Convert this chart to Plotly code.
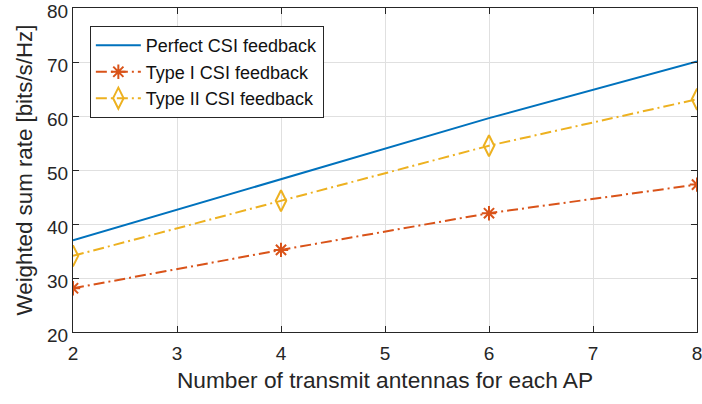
import plotly.graph_objects as go

# Sum-rate results versus number of transmit antennas per AP
antennas = [2, 4, 6, 8]
rate_perfect = [37.0, 48.3, 59.6, 70.1]
rate_type1 = [28.1, 35.2, 42.0, 47.3]
rate_type2 = [34.1, 44.3, 54.5, 63.1]

x_ticks = [2, 3, 4, 5, 6, 7, 8]
y_ticks = [20, 30, 40, 50, 60, 70, 80]

BLUE = "#0072BD"
RED = "#D95319"
YELLOW = "#EDB120"
AX = "#262626"
FONT = "Liberation Sans, Arial, sans-serif"
DASHDOT = "11px,4px,2px,4px"

fig = go.Figure()
fig.add_trace(go.Scatter(
    x=antennas, y=rate_perfect, mode="lines", name="Perfect CSI feedback",
    line=dict(color=BLUE, width=2),
))
fig.add_trace(go.Scatter(
    x=antennas, y=rate_type1, mode="lines+markers", name="Type I CSI feedback",
    line=dict(color=RED, width=2, dash=DASHDOT),
    marker=dict(symbol="asterisk-open", size=12, line=dict(color=RED, width=2)),
))
fig.add_trace(go.Scatter(
    x=antennas, y=rate_type2, mode="lines+markers", name="Type II CSI feedback",
    line=dict(color=YELLOW, width=2, dash=DASHDOT),
    marker=dict(symbol="diamond-tall-open", size=15, line=dict(color=YELLOW, width=2)),
))

axis_common = dict(
    showline=True, linecolor=AX, linewidth=1, mirror="ticks",
    ticks="inside", ticklen=6, tickwidth=1, tickcolor=AX,
    showgrid=True, gridcolor="#e0e0e0", gridwidth=1, zeroline=False,
    tickfont=dict(family=FONT, size=19, color=AX),
    ticklabeloverflow="allow", automargin=False,
)

fig.update_xaxes(
    range=[2, 8], tickvals=x_ticks, ticktext=[str(v) for v in x_ticks],
    ticklabelstandoff=4,
    title=dict(text="Number of transmit antennas for each AP",
               font=dict(family=FONT, size=22.7, color=AX), standoff=9),
    **axis_common,
)
fig.update_yaxes(
    range=[20, 80], tickvals=y_ticks, ticktext=[str(v) for v in y_ticks],
    ticklabelshift=3,
    title=dict(text="Weighted sum rate [bits/s/Hz]",
               font=dict(family=FONT, size=22.3, color=AX), standoff=8),
    **axis_common,
)

fig.update_layout(
    width=702, height=404,
    margin=dict(l=73, r=5, t=8, b=72),
    paper_bgcolor="white", plot_bgcolor="white",
    font=dict(family=FONT, color=AX),
    legend=dict(
        x=0.027, y=0.944, xanchor="left", yanchor="top",
        bgcolor="white", bordercolor=AX, borderwidth=1,
        font=dict(family=FONT, size=18, color="#111111"),
        itemwidth=45, tracegroupgap=0,
    ),
)

fig.write_html("out.html")
